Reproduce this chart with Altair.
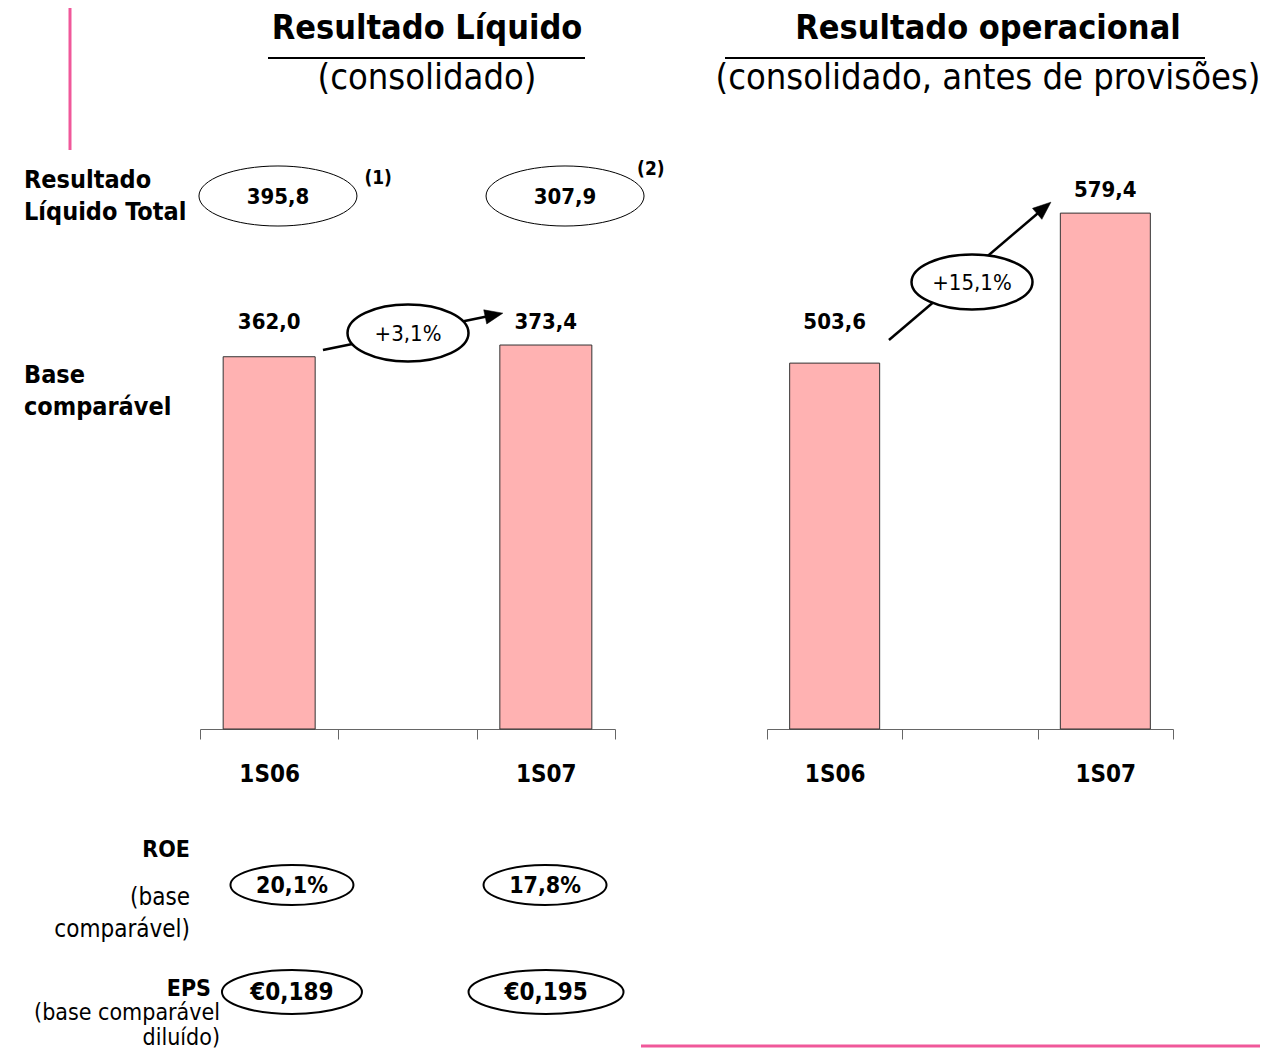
import altair as alt
import pandas as pd

# ---------------- data ----------------
periods = ["1S06", "1S07"]
gap_label = " "
net_comparable = [362.0, 373.4]
net_total = [395.8, 307.9]
net_total_notes = ["(1)", "(2)"]
net_growth = "+3,1%"
operating = [503.6, 579.4]
op_growth = "+15,1%"
roe_values = ["20,1%", "17,8%"]
eps_values = ["€0,189", "€0,195"]

title_left = "Resultado Líquido"
subtitle_left = "(consolidado)"
title_right = "Resultado operacional"
subtitle_right = "(consolidado, antes de provisões)"
row_total = "Resultado\nLíquido Total"
row_base = "Base\ncomparável"
row_roe = "ROE"
row_roe_note = "(base\ncomparável)"
row_eps = "EPS"
row_eps_note = "(base comparável\ndiluído)"

# ---------------- style ----------------
FONT = "DejaVu Sans Condensed, DejaVu Sans, sans-serif"
NARROW = "Liberation Sans Narrow, DejaVu Sans Condensed, sans-serif"
PINK = "#F0589A"
BAR_FILL = "#FFB2B2"
BAR_STROKE = "#333333"
W, H = 973, 617
LEFT_RANGE = [0, 415]
RIGHT_RANGE = [567, 973]
Y_LEFT = [0, 600]
Y_RIGHT = [318.7, 630.5]

order = [periods[0], gap_label, periods[1]]


def fmt1(v):
    return f"{v:.1f}".replace(".", ",")


def ellipse(k):
    return f"M-1,0A1,{k} 0 1,1 1,0A1,{k} 0 1,1 -1,0Z"


TRI = "M0,-1L0.8,1L-0.8,1Z"

AX = alt.Axis(title=None, orient="bottom", labelAngle=0, labelFont=NARROW,
              labelFontSize=24, labelFontWeight="bold", labelColor="black",
              labelPadding=23, tickBand="extent", tickSize=10, tickColor="#666666",
              tickWidth=1, domainColor="#666666", domainWidth=1, grid=False)


def xs(rng):
    return alt.Scale(domain=order, range=rng, paddingInner=0, paddingOuter=0)


def ys(dom):
    return alt.Scale(domain=dom, nice=False, zero=False, clamp=True)


def bar_panel(values, growth_text, xr, yd, label_dy, arrow_off, arrow_angle,
              growth_off, growth_k):
    df = pd.DataFrame({"period": periods, "value": values,
                       "label": [fmt1(v) for v in values]})
    X = alt.X("period:N", scale=xs(xr), axis=AX)
    Y = alt.Y("value:Q", scale=ys(yd), axis=None)
    base = alt.Chart(df)
    layers = [base.mark_bar(width=alt.RelativeBandSize(0.665), fill=BAR_FILL,
                            stroke=BAR_STROKE, strokeWidth=1)
              .encode(x=X, y=Y, y2=alt.Y2(datum=yd[0]))]
    for p, dy in zip(periods, label_dy):
        layers.append(
            base.transform_filter(alt.datum.period == p)
            .mark_text(dy=dy, font=FONT, fontSize=22, fontWeight="bold",
                       color="black", baseline="middle")
            .encode(x=X, y=Y, text="label:N"))
    adf = pd.DataFrame({"start": [periods[0]], "end": [periods[1]],
                        "v0": [values[0]], "v1": [values[1]],
                        "gap": [gap_label], "growth": [growth_text]})
    ab = alt.Chart(adf)
    XS = alt.X("start:N", scale=xs(xr), axis=AX)
    XE = alt.X("end:N", scale=xs(xr), axis=AX)
    XG = alt.X("gap:N", scale=xs(xr), axis=AX)
    Y0 = alt.Y("v0:Q", scale=ys(yd), axis=None)
    Y1 = alt.Y("v1:Q", scale=ys(yd), axis=None)
    layers.append(ab.mark_rule(xOffset=arrow_off[0], yOffset=arrow_off[1],
                               x2Offset=arrow_off[2], y2Offset=arrow_off[3],
                               strokeWidth=2.5, color="black")
                  .encode(x=XS, x2="end:N", y=Y0, y2="v1:Q"))
    layers.append(ab.mark_point(shape=TRI, size=324, angle=arrow_angle, filled=True,
                                fill="black", stroke="black", strokeWidth=0.5,
                                opacity=1, xOffset=arrow_off[2], yOffset=arrow_off[3])
                  .encode(x=XE, y=Y1))
    layers.append(ab.mark_point(shape=ellipse(growth_k), size=121 ** 2, filled=True,
                                fill="white", stroke="black", strokeWidth=2.5,
                                opacity=1, xOffset=growth_off[0], yOffset=growth_off[1])
                  .encode(x=XG, y=Y0))
    layers.append(ab.mark_text(xOffset=growth_off[0], yOffset=growth_off[1] + 1,
                               font=FONT, fontSize=22, color="black", baseline="middle")
                  .encode(x=XG, y=Y0, text="growth:N"))
    return layers, X


# ---------- left panel ----------
left_layers, XL = bar_panel(net_comparable, net_growth, LEFT_RANGE, Y_LEFT,
                            [-35, -23], [53.8, -6.7, -51.8, -30], 78,
                            [0.5, -23.7], 0.471)

tdf = pd.DataFrame({"period": periods, "label": [fmt1(v) for v in net_total],
                    "note": net_total_notes})
for i, (p, xo, nx, ny) in enumerate(zip(periods, [8.8, 19.2], [109, 105], [66, 57])):
    b = alt.Chart(tdf).transform_filter(alt.datum.period == p)
    left_layers.append(b.mark_point(shape=ellipse(0.38), size=158 ** 2, filled=False,
                                    color="black", strokeWidth=1, opacity=1, xOffset=xo)
                       .encode(x=XL, y=alt.value(84)))
    left_layers.append(b.mark_text(xOffset=xo, font=FONT, fontSize=22, fontWeight="bold",
                                   color="black", baseline="middle")
                       .encode(x=XL, y=alt.value(85), text="label:N"))
    left_layers.append(b.mark_text(xOffset=nx, font=FONT, fontSize=19, fontWeight="bold",
                                   color="black", baseline="middle")
                       .encode(x=XL, y=alt.value(ny), text="note:N"))

rdf = pd.DataFrame({"period": periods, "label": roe_values})
edf = pd.DataFrame({"period": periods, "label": eps_values})
for p, xo in zip(periods, [22.8, -0.8]):
    b = alt.Chart(rdf).transform_filter(alt.datum.period == p)
    left_layers.append(b.mark_point(shape=ellipse(0.325), size=123 ** 2, filled=False,
                                    color="black", strokeWidth=2, opacity=1, xOffset=xo)
                       .encode(x=XL, y=alt.value(773)))
    left_layers.append(b.mark_text(xOffset=xo, font=FONT, fontSize=23, fontWeight="bold",
                                   color="black", baseline="middle")
                       .encode(x=XL, y=alt.value(774), text="label:N"))
for p, xo, w in zip(periods, [22.8, 0.2], [140, 155]):
    b = alt.Chart(edf).transform_filter(alt.datum.period == p)
    left_layers.append(b.mark_point(shape=ellipse(round(44 / w, 3)), size=w ** 2,
                                    filled=False, color="black", strokeWidth=2,
                                    opacity=1, xOffset=xo)
                       .encode(x=XL, y=alt.value(880)))
    left_layers.append(b.mark_text(xOffset=xo, font=FONT, fontSize=24, fontWeight="bold",
                                   color="black", baseline="middle")
                       .encode(x=XL, y=alt.value(881), text="label:N"))

left = alt.layer(*left_layers)

# ---------- right panel ----------
right_layers, XR = bar_panel(operating, op_growth, RIGHT_RANGE, Y_RIGHT,
                             [-41, -23], [54.3, -23.1, -61.3, -5.1], 49.6,
                             [2, -81.1], 0.455)
right = alt.layer(*right_layers)


# ---------- decorations ----------
def txt(s, x, y, size, weight="normal", align="center", lh=32):
    return (alt.Chart(pd.DataFrame({"t": [s]}))
            .mark_text(font=FONT, fontSize=size, fontWeight=weight, align=align,
                       baseline="middle", lineBreak="\n", lineHeight=lh, color="black")
            .encode(x=alt.value(x), y=alt.value(y), text="t:N"))


def line(x, x2, y, y2, color, w):
    return (alt.Chart(pd.DataFrame({"k": [0]}))
            .mark_rule(color=color, strokeWidth=w)
            .encode(x=alt.value(x), x2=alt.value(x2), y=alt.value(y), y2=alt.value(y2)))


decor = [
    txt(title_left, 227, -83, 34, "bold"),
    txt(subtitle_left, 227, -34, 36),
    txt(title_right, 788, -83, 34, "bold"),
    txt(subtitle_right, 788, -34, 36),
    line(68, 385, -54, -54, "black", 2),
    line(525, 1005, -54, -54, "black", 2),
    line(-130, -130, -104, 38, PINK, 3),
    line(441, 1068, 934, 934, PINK, 3),
    txt(row_total, -176, 68, 25, "bold", "left"),
    txt(row_base, -176, 263, 25, "bold", "left"),
    txt(row_roe, -10, 738, 23, "bold", "right"),
    txt(row_roe_note, -10, 786, 24, "normal", "right"),
    txt(row_eps, 11, 877, 23, "bold", "right"),
    txt(row_eps_note, 20, 901, 23, "normal", "right", 25),
]

chart = (alt.layer(left, right, *decor)
         .resolve_scale(x="independent", y="independent")
         .properties(width=W, height=H,
                     autosize=alt.AutoSizeParams(type="none"),
                     padding={"left": 192, "top": 104, "right": 87, "bottom": 326})
         .configure_view(stroke=None))

chart.save("out.html", embed_options={"renderer": "svg", "actions": False})
